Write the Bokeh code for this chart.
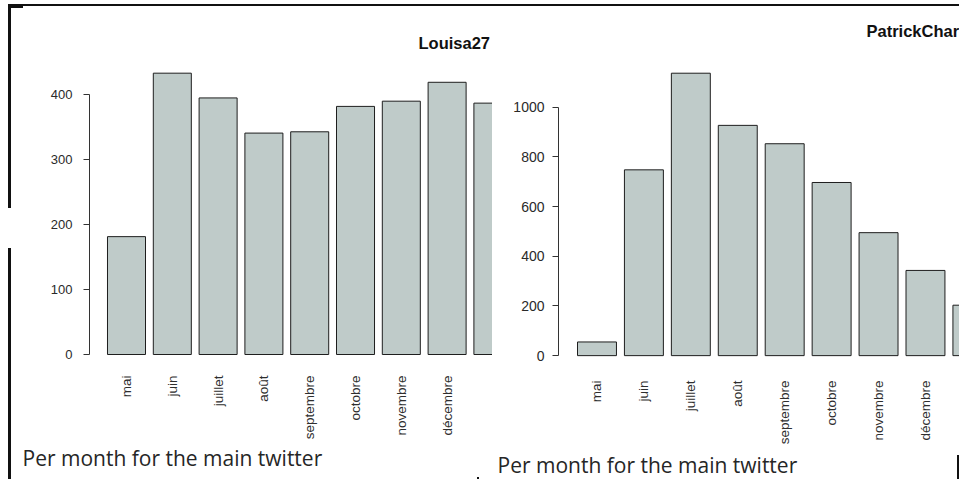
import math
from bokeh.plotting import figure
from bokeh.layouts import row
from bokeh.models import (ColumnDataSource, Range1d, FixedTicker, Label, Title, InlineStyleSheet)
from bokeh.embed import file_html
from bokeh.resources import INLINE

# ---- data ----
months = ["mai", "juin", "juillet", "août", "septembre", "octobre", "novembre", "décembre", "janvier"]
louisa_counts = [181, 432, 394, 340, 342, 381, 389, 418, 386]
patrick_counts = [55, 748, 1137, 927, 853, 697, 495, 343, 203]
louisa_ticks = [0, 100, 200, 300, 400]
patrick_ticks = [0, 200, 400, 600, 800, 1000]
title_left = "Louisa27"
title_right = "PatrickChar"
caption = "Per month for the main twitter"

BAR_FILL = "#bfcbc9"
BAR_LINE = "#1e1e1e"
H = 479


def make_panel(width, frame_left, frame_bottom, xr, yr, counts, ticks, ylab_size,
               xlab_size, tick_standoff, xlab_standoff, cap_offset, cap_standoff):
    p = figure(width=width, height=H, output_backend="svg", toolbar_location=None,
               x_range=Range1d(*xr), y_range=Range1d(*yr),
               min_border_left=frame_left, min_border_right=0, min_border_top=0,
               min_border_bottom=H - frame_bottom)
    p.outline_line_color = None
    p.grid.visible = False
    p.background_fill_color = None
    p.border_fill_color = None
    src = ColumnDataSource(dict(x=list(range(len(counts))), top=counts, m=months[:len(counts)]))
    p.vbar(x="x", top="top", width=0.83, bottom=0, source=src,
           fill_color=BAR_FILL, line_color=BAR_LINE, line_width=1)
    # y axis (R style, bounded)
    ya = p.yaxis[0]
    ya.ticker = FixedTicker(ticks=ticks)
    ya.bounds = (ticks[0], ticks[-1])
    ya.axis_line_color = "#333333"
    ya.major_tick_line_color = "#333333"
    ya.major_tick_out = 6
    ya.major_tick_in = 0
    ya.minor_tick_line_color = None
    ya.major_label_standoff = tick_standoff
    ya.major_label_text_font = "Liberation Sans"
    ya.major_label_text_font_size = ylab_size
    ya.major_label_text_color = "#2a2a2a"
    # x axis: month names, vertical, no line, no ticks
    xa = p.xaxis[0]
    xa.ticker = FixedTicker(ticks=list(range(len(counts))))
    xa.major_label_overrides = {i: m for i, m in enumerate(months[:len(counts)])}
    xa.major_label_orientation = math.pi / 2
    xa.axis_line_color = None
    xa.major_tick_line_color = None
    xa.minor_tick_line_color = None
    xa.major_label_standoff = xlab_standoff
    xa.major_label_text_font = "Liberation Sans"
    xa.major_label_text_font_size = xlab_size
    xa.major_label_text_color = "#2e2e2e"
    p.add_layout(Title(text=caption, align="left", offset=cap_offset, standoff=cap_standoff,
                       text_font="Open Sans", text_font_size="21px",
                       text_font_style="normal", text_color="#262626"), "below")
    return p


# ---- left panel ----
WL = 492
pL = make_panel(WL, 89, 360, (-0.808, 7.991), (-7.66, 543.6), louisa_counts,
                louisa_ticks, "13px", "13.5px", 11, 10, -67, -2)
pL.add_layout(Label(x=418, y=42, x_units="canvas", y_units="canvas", text=title_left,
                    text_font="Liberation Sans", text_font_style="bold",
                    text_font_size="16.5px", text_color="#111111", text_baseline="middle"))

# ---- right panel ----
WR = 467
pR = make_panel(WR, 66, 370, (-0.820, 7.725), (-15.6, 1429.7), patrick_counts,
                patrick_ticks, "14px", "13.5px", 8, 15, -61, 2)
pR.add_layout(Label(x=374, y=30, x_units="canvas", y_units="canvas", text=title_right,
                    text_font="Liberation Sans", text_font_style="bold",
                    text_font_size="16.5px", text_color="#111111", text_baseline="middle"))

# document-table border lines drawn behind the transparent figures
segs = [  # (x, y, w, h) in page pixels
    (8, 4, 952, 2),
    (8, 4, 15, 4),
    (8, 4, 3, 204),
    (8, 248, 3, 240),
    (477, 477, 2, 20),
    (957, 455, 2, 40),
]
css = ":host { background-color: white; background-repeat: no-repeat; background-image: %s; background-size: %s; background-position: %s; }" % (
    ", ".join(["linear-gradient(#111, #111)"] * len(segs)),
    ", ".join("%dpx %dpx" % (w, h) for (x, y, w, h) in segs),
    ", ".join("%dpx %dpx" % (x, y) for (x, y, w, h) in segs),
)
layout = row(pL, pR, stylesheets=[InlineStyleSheet(css=css)])
open("out.html", "w").write(file_html(layout, INLINE))
